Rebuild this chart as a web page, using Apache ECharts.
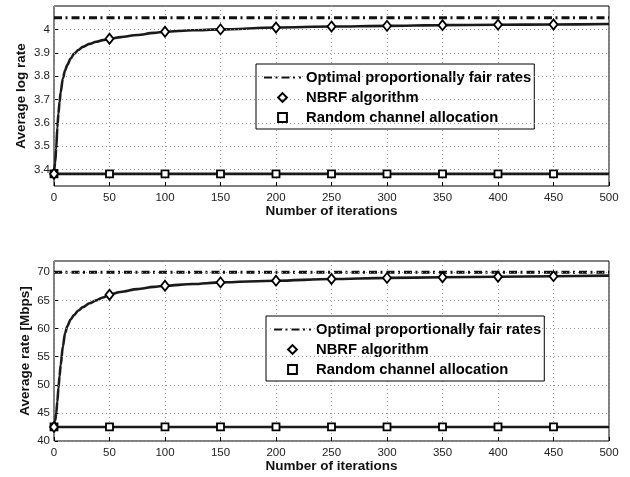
<!DOCTYPE html>
<html>
<head>
<meta charset="utf-8">
<script src="https://cdn.jsdelivr.net/npm/echarts@6/dist/echarts.min.js"></script>
<style>
  html, body { margin: 0; background: #fff; }
  #chart { width: 630px; height: 477px; }
</style>
</head>
<body>
<div id="chart"></div>
<script>
// ------------------------------------------------------------
// Data
// ------------------------------------------------------------
const xTicks = [0, 50, 100, 150, 200, 250, 300, 350, 400, 450, 500];
const logTicks = [3.4, 3.5, 3.6, 3.7, 3.8, 3.9, 4];
const rateTicks = [40, 45, 50, 55, 60, 65, 70];

// NBRF algorithm curve
const nbrfIters = [0, 1, 2, 3, 4, 5, 6, 8, 10, 12, 15, 18, 22, 26, 32, 38, 44, 50, 60, 75, 90, 100, 125, 150, 200, 250, 300, 350, 400, 450, 500];
const nbrfLog = [3.382, 3.43, 3.49, 3.58, 3.64, 3.69, 3.73, 3.79, 3.825, 3.848, 3.875, 3.895, 3.912, 3.925, 3.938, 3.947, 3.954, 3.96,
  3.967, 3.976, 3.985, 3.99, 3.996, 4.0, 4.008, 4.012, 4.015, 4.018, 4.02, 4.021, 4.023];
const nbrfRate = [42.5, 43.6, 44.9, 47.0, 49.4, 51.5, 53.5, 56.8, 59.2, 60.4, 61.6, 62.4, 63.2, 63.8, 64.5, 65.0, 65.5, 66.0,
  66.5, 67.0, 67.4, 67.6, 67.9, 68.2, 68.5, 68.8, 69.0, 69.1, 69.2, 69.3, 69.4];

// Optimal proportionally fair rates
const optIters = [0, 500];
const optLog = [4.05, 4.05];
const optRate = [70, 70];

// Random channel allocation
const randIters = [0, 50, 100, 150, 200, 250, 300, 350, 400, 450, 500];
const randLog = [3.382, 3.382, 3.382, 3.382, 3.382, 3.382, 3.382, 3.382, 3.382, 3.382, 3.382];
const randRate = [42.5, 42.5, 42.5, 42.5, 42.5, 42.5, 42.5, 42.5, 42.5, 42.5, 42.5];

const NAME_OPT = "Optimal proportionally fair rates";
const NAME_NBRF = "NBRF algorithm";
const NAME_RAND = "Random channel allocation";
const FONT = "Liberation Sans, Arial, sans-serif";

// ------------------------------------------------------------
// Helpers
// ------------------------------------------------------------
function pairs(xs, ys) {
  return xs.map((x, i) => [x, ys[i]]);
}

// markers every 50 iterations, none at the right end
function markers(xs, ys) {
  return pairs(xs, ys).filter((p) => p[0] % 50 === 0 && p[0] < 500);
}

// marker-only series: a line series with an invisible line, so the
// legend shows just the symbol at its own aspect
function markerSeries(name, symbol, size, data, z, ax) {
  return Object.assign({
    name: name, type: "line", symbol: symbol, symbolSize: size, showAllSymbol: true, z: z,
    lineStyle: {width: 0, opacity: 0},
    itemStyle: {color: "#fff", borderColor: "#000", borderWidth: 1.8},
    data: data,
  }, ax);
}

function panelSeries(idx, nbrf, opt, rand, yTicks) {
  const ax = {xAxisIndex: idx, yAxisIndex: idx};
  return [
    // horizontal dotted grid
    Object.assign({
      type: "line", data: [], silent: true, z: 1,
      markLine: {
        silent: true, symbol: ["none", "none"], label: {show: false},
        lineStyle: {type: [1, 3], color: "#999", width: 1},
        emphasis: {disabled: true},
        data: yTicks.map((v) => ({yAxis: v})),
      },
    }, ax),
    Object.assign({
      name: NAME_OPT, type: "line", symbol: "none", z: 3,
      itemStyle: {color: "#111", opacity: 0},
      lineStyle: {color: "#111", width: 3, type: [8, 3.5, 2, 4], cap: "butt"},
      data: pairs(optIters, opt),
    }, ax),
    Object.assign({
      type: "line", symbol: "none", smooth: 0.3, smoothMonotone: "x", z: 3,
      lineStyle: {color: "#1a1a1a", width: 2.6},
      data: pairs(nbrfIters, nbrf),
    }, ax),
    Object.assign({
      type: "line", symbol: "none", z: 3,
      lineStyle: {color: "#1a1a1a", width: 2.6},
      data: pairs(randIters, rand),
    }, ax),
    markerSeries(NAME_RAND, "rect", 7, markers(randIters, rand), 4, ax),
    markerSeries(NAME_NBRF, "diamond", [8, 10], markers(nbrfIters, nbrf), 5, ax),
  ];
}

function xAxisFor(idx) {
  return {
    gridIndex: idx, type: "value", min: 0, max: 500, interval: 50,
    name: "Number of iterations", nameLocation: "middle", nameGap: 18, nameMoveOverlap: false,
    nameTextStyle: {fontFamily: FONT, fontWeight: "bold", fontSize: 13.5, color: "#111"},
    axisLine: {show: false},
    axisTick: {show: true, inside: true, length: 4, lineStyle: {color: "#000"}},
    axisLabel: {fontFamily: FONT, fontSize: 11.5, color: "#222", margin: 6},
    splitLine: {show: true, lineStyle: {type: [1, 3], color: "#999", width: 1}},
  };
}

function yAxisFor(idx, min, max, ticks, name, gap) {
  return {
    gridIndex: idx, type: "value", min: min, max: max,
    name: name, nameLocation: "middle", nameGap: gap, nameMoveOverlap: false,
    nameTextStyle: {fontFamily: FONT, fontWeight: "bold", fontSize: 13.5, color: "#111"},
    axisLine: {show: false},
    axisTick: {show: true, inside: true, length: 4, customValues: ticks, lineStyle: {color: "#000"}},
    axisLabel: {fontFamily: FONT, fontSize: 11.5, color: "#222", margin: 4, customValues: ticks,
      formatter: (v) => String(Math.round(v * 10) / 10)},
    splitLine: {show: false},
  };
}

function legendFor(left, top) {
  return {
    orient: "vertical", left: left, top: top,
    data: [NAME_OPT, NAME_NBRF, NAME_RAND],
    itemWidth: 37, itemHeight: 11, itemGap: 5,
    padding: [6, 3, 4, 7],
    borderColor: "#000", borderWidth: 1, borderRadius: 0,
    backgroundColor: "#fff",
    selectedMode: false,
    textStyle: {fontFamily: FONT, fontWeight: "bold", fontSize: 14.8, lineHeight: 14, color: "#000"},
  };
}

// ------------------------------------------------------------
// Chart
// ------------------------------------------------------------
const chart = echarts.init(document.getElementById("chart"), null, {renderer: "canvas"});

chart.setOption({
  animation: false,
  backgroundColor: "#fff",
  grid: [
    {left: 54, top: 6, width: 555, height: 180, show: true, borderColor: "#000", borderWidth: 1, backgroundColor: "transparent"},
    {left: 54, top: 261, width: 555, height: 180, show: true, borderColor: "#000", borderWidth: 1, backgroundColor: "transparent"},
  ],
  xAxis: [xAxisFor(0), xAxisFor(1)],
  yAxis: [
    yAxisFor(0, 3.33, 4.1, logTicks, "Average log rate", 26),
    yAxisFor(1, 40, 72, rateTicks, "Average rate [Mbps]", 22),
  ],
  legend: [legendFor(256, 64), legendFor(266, 316)],
  series: [].concat(
    panelSeries(0, nbrfLog, optLog, randLog, logTicks),
    panelSeries(1, nbrfRate, optRate, randRate, rateTicks)
  ),
});
</script>
</body>
</html>
